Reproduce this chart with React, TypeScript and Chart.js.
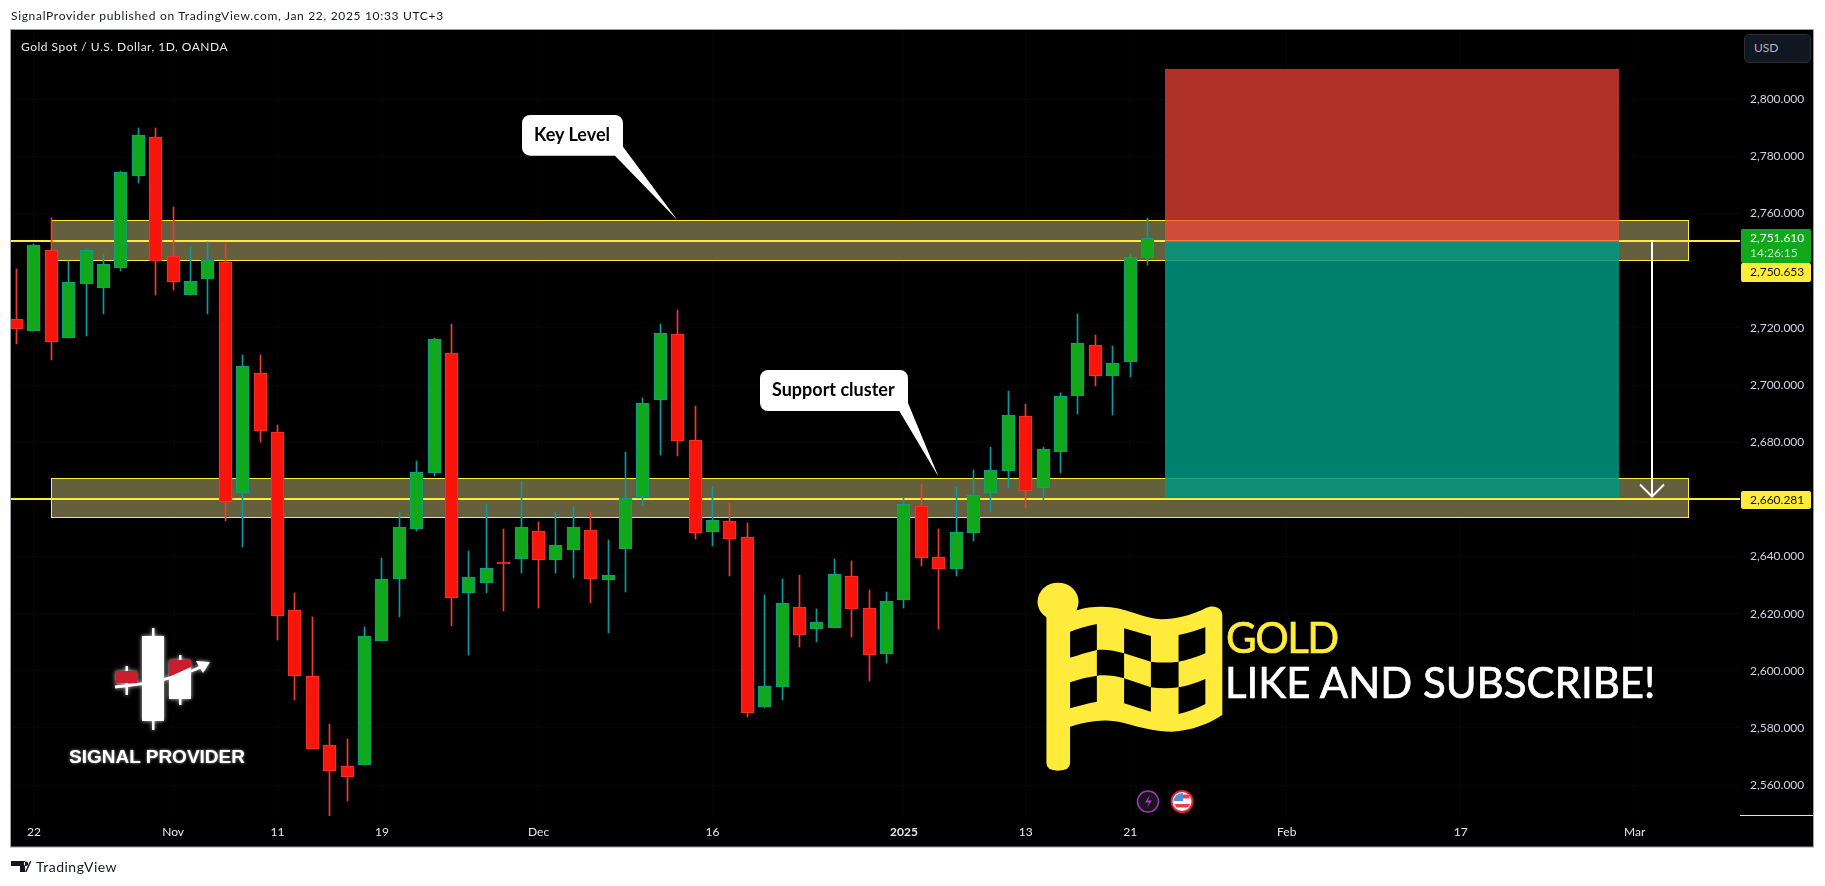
import React, { useEffect, useRef } from "react";
import { Chart, registerables } from "chart.js";

Chart.register(...registerables);

const opens = [2723.0,2719.0,2747.2,2716.3,2735.5,2733.8,2741.1,2773.3,2786.7,2745.1,2731.6,2737.2,2743.0,2662.1,2704.1,2683.5,2621.2,2598.1,2574.0,2566.6,2567.2,2610.6,2632.3,2649.8,2669.4,2711.1,2627.4,2630.9,2638.0,2639.3,2648.8,2638.9,2642.4,2649.2,2631.9,2642.8,2661.0,2694.9,2717.8,2680.7,2648.7,2652.4,2646.8,2587.5,2594.2,2622.2,2614.8,2615.1,2633.1,2621.9,2606.0,2624.9,2657.6,2639.8,2635.8,2648.4,2662.2,2670.1,2689.1,2664.1,2676.7,2696.0,2713.9,2703.0,2707.9,2744.4];
const highs = [2740.6,2749.2,2758.4,2743.4,2747.5,2745.9,2774.9,2789.9,2790.0,2762.2,2748.2,2750.0,2749.7,2710.4,2710.4,2685.9,2627.2,2618.8,2581.3,2576.1,2615.3,2639.4,2655.5,2673.3,2716.5,2721.4,2641.8,2658.3,2649.7,2666.3,2652.0,2655.5,2657.2,2655.5,2645.7,2676.5,2695.4,2721.4,2726.3,2692.7,2664.3,2658.7,2651.7,2626.6,2632.0,2633.5,2621.6,2639.0,2638.4,2628.2,2627.5,2660.4,2665.3,2649.6,2664.3,2670.2,2678.3,2697.8,2693.3,2678.3,2697.1,2724.9,2717.4,2713.7,2746.0,2758.4];
const lows = [2714.2,2718.8,2708.8,2716.3,2717.3,2724.9,2740.0,2770.7,2731.5,2733.3,2731.6,2724.9,2652.5,2643.5,2680.0,2610.8,2589.8,2572.8,2549.2,2554.5,2567.0,2610.6,2618.9,2649.1,2668.2,2615.7,2605.6,2627.3,2621.0,2634.3,2622.0,2634.3,2632.5,2623.8,2613.4,2627.6,2658.0,2675.6,2675.2,2646.2,2643.7,2633.2,2583.9,2586.9,2589.8,2608.4,2610.1,2615.1,2611.9,2596.5,2602.8,2622.0,2636.7,2614.7,2633.3,2645.6,2655.6,2664.0,2657.1,2659.9,2669.3,2689.9,2699.5,2689.6,2702.9,2742.0];
const closes = [2719.5,2748.9,2715.2,2736.0,2747.2,2742.3,2774.4,2787.4,2743.5,2736.2,2736.3,2743.7,2659.0,2706.6,2684.1,2619.3,2598.3,2572.8,2564.8,2563.0,2612.1,2632.0,2650.2,2669.5,2716.0,2625.6,2632.7,2635.9,2637.4,2650.2,2638.9,2643.9,2650.2,2632.0,2633.5,2660.4,2693.6,2718.1,2680.6,2648.4,2652.7,2646.3,2585.4,2594.6,2623.6,2612.7,2617.0,2633.8,2621.8,2605.7,2624.4,2658.3,2639.6,2635.8,2648.5,2661.5,2670.2,2689.4,2663.1,2677.5,2696.1,2714.6,2703.0,2707.6,2744.7,2751.61];

const candleIndex = opens.map((_, i) => i);
const priceTicks = [2800, 2780, 2760, 2720, 2700, 2680, 2640, 2620, 2600, 2580, 2560];
const timeTickIndex = [1, 9, 15, 21, 30, 40, 51, 58, 64, 73, 83, 93];
const timeTickLabels = ["22", "Nov", "11", "19", "Dec", "16", "2025", "13", "21", "Feb", "17", "Mar"];
const priceLines = [2750.653, 2660.281];
const zones = [
  { x0: 2, x1: 96.04, top: 2757.6, bottom: 2743.6 },
  { x0: 2, x1: 96.04, top: 2667.4, bottom: 2653.7 },
];
const positionX = [66, 92.1];
const stopPrice = 2810.5;
const entryPrice = 2750.653;
const targetPrice = 2661.0;
const arrowIndex = 94;

const GREEN = "#12a81c";
const TEAL = "#0a9c9c";
const RED = "#f8150c";
const RED_EDGE = "#f43a2e";
const YELLOW = "#ffeb3b";
const FONT = "Lato, 'Noto Sans', sans-serif";

const isUp = (i: number) => closes[i] >= opens[i];

const label = (ctx: any, x: number, y: number, w: number, h: number, fill: string) => {
  ctx.fillStyle = fill;
  ctx.beginPath();
  ctx.roundRect(x, y, w, h, 2);
  ctx.fill();
};

const tvPlugin = {
  id: "tvLayers",
  beforeDraw(chart: any) {
    const { ctx } = chart;
    ctx.save();
    ctx.fillStyle = "#000";
    ctx.fillRect(11, 30, 1802, 817);
    ctx.restore();
  },
  beforeDatasetsDraw(chart: any) {
    const { ctx, chartArea, scales } = chart;
    chart.data.datasets.forEach((ds: any, i: number) => {
      const els = chart.getDatasetMeta(i).data;
      if (ds.type === "line") {
        els.forEach((el: any) => { el.y = Math.ceil(el.y); });
        return;
      }
      els.forEach((el: any) => {
        el.x = Math.round(el.x - 0.5) + 0.5;
        el.y = Math.round(el.y);
        el.base = Math.round(el.base);
      });
    });
    ctx.save();
    ctx.beginPath();
    ctx.rect(chartArea.left, chartArea.top, chartArea.width, chartArea.height);
    ctx.clip();
    zones.forEach((z) => {
      const l = Math.round(scales.x.getPixelForValue(z.x0)) + 0.5;
      const r = Math.round(scales.x.getPixelForValue(z.x1)) + 0.5;
      const t = Math.round(scales.y.getPixelForValue(z.top)) + 0.5;
      const b = Math.round(scales.y.getPixelForValue(z.bottom)) + 0.5;
      ctx.fillStyle = "#645f3c";
      ctx.fillRect(l, t, r - l, b - t);
      ctx.strokeStyle = YELLOW;
      ctx.lineWidth = 1;
      ctx.strokeRect(l, t, r - l, b - t);
    });
    ctx.restore();
  },
  beforeDatasetDraw(chart: any, args: any) {
    if (chart.data.datasets[args.index].label !== "wicks") return;
    const { ctx, scales } = chart;
    const l = Math.round(scales.x.getPixelForValue(positionX[0]));
    const r = Math.round(scales.x.getPixelForValue(positionX[1]));
    const t = Math.round(scales.y.getPixelForValue(stopPrice));
    const m = Math.ceil(scales.y.getPixelForValue(entryPrice));
    const b = Math.round(scales.y.getPixelForValue(targetPrice));
    ctx.save();
    ctx.fillStyle = "rgba(249,70,56,0.7)";
    ctx.fillRect(l, t, r - l, m - t);
    ctx.fillStyle = "rgba(0,152,131,0.84)";
    ctx.fillRect(l, m, r - l, b - m);
    ctx.restore();
  },
  afterDatasetsDraw(chart: any) {
    const { ctx, scales } = chart;
    const x = Math.round(scales.x.getPixelForValue(arrowIndex));
    const t = scales.y.getPixelForValue(entryPrice);
    const b = scales.y.getPixelForValue(targetPrice);
    ctx.save();
    ctx.strokeStyle = "#ffffff";
    ctx.lineWidth = 2;
    ctx.beginPath();
    ctx.moveTo(x, t);
    ctx.lineTo(x, b);
    ctx.moveTo(x - 12, b - 12);
    ctx.lineTo(x, b);
    ctx.lineTo(x + 12, b - 12);
    ctx.stroke();
    ctx.restore();
  },
  afterDraw(chart: any) {
    const { ctx, chartArea } = chart;
    ctx.save();
    ctx.strokeStyle = "#e4e4e4";
    ctx.lineWidth = 1;
    ctx.beginPath();
    ctx.moveTo(chartArea.right, chartArea.bottom - 0.5);
    ctx.lineTo(1813, chartArea.bottom - 0.5);
    ctx.stroke();
    label(ctx, 1741, 229, 70, 34, GREEN);
    label(ctx, 1741, 263, 70, 19, YELLOW);
    label(ctx, 1741, 491, 70, 18, YELLOW);
    ctx.restore();
    ctx.save();
    ctx.font = `12px ${FONT}`;
    ctx.textBaseline = "middle";
    ctx.fillStyle = "#ffffff";
    ctx.fillText("2,751.610", 1750, 238);
    ctx.fillStyle = "#bfe8c0";
    ctx.fillText("14:26:15", 1750, 253);
    ctx.fillStyle = "#111111";
    ctx.fillText("2,750.653", 1750, 272.5);
    ctx.fillText("2,660.281", 1750, 500);
    ctx.restore();
  },
};

function Overlay() {
  const text = (left: number, top: number, size: number, content: string, extra: any = {}) => (
    <div style={{ position: "absolute", left, top, fontSize: size, lineHeight: 1, whiteSpace: "nowrap", fontFamily: FONT, ...extra }}>{content}</div>
  );
  return (
    <>
      {text(11, 10, 12, "SignalProvider published on TradingView.com, Jan 22, 2025 10:33 UTC+3", { color: "#131722", letterSpacing: "0.68px" })}
      {text(21, 41, 12, "Gold Spot / U.S. Dollar, 1D, OANDA", { color: "#e8e8e8", letterSpacing: "0.5px" })}
      <div style={{ position: "absolute", left: 1744, top: 34, width: 65, height: 27, background: "#131722", border: "1px solid #2a2e39", borderRadius: 5 }} />
      {text(1754, 42, 12, "USD", { color: "#b2b5be" })}
      <svg width={1825} height={886} style={{ position: "absolute", left: 0, top: 0, pointerEvents: "none" }}>
        <rect x={10.5} y={29.5} width={1803} height={817.5} fill="none" stroke="#9a9ea8" strokeWidth={1} />
        <path d="M530 115H615a8 8 0 0 1 8 8V146.7L677.3 220L615 155.7H530a8 8 0 0 1 -8 -8V123a8 8 0 0 1 8 -8Z" fill="#fff" />
        <path d="M768 370H900a8 8 0 0 1 8 8V403L938.5 476.7L899.3 411H768a8 8 0 0 1 -8 -8V378a8 8 0 0 1 8 -8Z" fill="#fff" />
        <g transform="translate(1000 560) scale(0.4464 0.3333)">
          <ellipse cx={130} cy={125} rx={46} ry={57} fill={YELLOW} />
          <path d="M104 160L104 610Q104 632 130 632Q157 632 157 610L157 500C200 482 240 475 280 490C320 505 350 515 385 515C430 512 470 490 498 465L498 165C498 145 480 132 460 145C430 165 395 178 360 178C320 175 280 140 230 140C205 140 190 143 175 150Z" fill={YELLOW} />
          <g fill="#000">
            <path d="M157 215C177 205 197 198 217 192V270C197 276 177 285 157 293Z" />
            <path d="M278 205L338 228V305C318 297 298 288 278 280Z" />
            <path d="M400 225C420 220 440 212 460 202V280C440 292 420 300 400 305Z" />
            <path d="M217 270C237 267 258 272 278 280V355C258 347 237 344 217 347Z" />
            <path d="M338 305C358 309 380 308 400 305V382C380 386 358 386 338 382Z" />
            <path d="M157 367C177 357 197 351 217 347V425C197 430 177 437 157 445Z" />
            <path d="M278 355L338 382V455L278 430Z" />
            <path d="M400 382C420 378 440 368 460 357V432C440 446 420 456 400 462Z" />
          </g>
        </g>
        <g style={{ filter: "drop-shadow(0 0 2px rgba(255,255,255,0.8))" }}>
          <rect x={142} y={636} width={22} height={85} fill="#fff" />
          <rect x={152} y={628} width={2.5} height={102} fill="#fff" />
          <rect x={169} y={660} width={22} height={39} fill="#fff" />
          <rect x={179} y={655} width={2.5} height={50} fill="#fff" />
          <path d="M169 660H191V667L169 677Z" fill="#c81e2e" />
          <rect x={125.5} y={666} width={2.5} height={29} fill="#fff" />
          <rect x={115.5} y={671} width={21.5} height={12} fill="#c81e2e" />
          <path d="M115 687C150 684 182 676 203 666" fill="none" stroke="#fff" strokeWidth={3} />
          <path d="M196 661L210 662L203 673Z" fill="#fff" />
        </g>
        <g>
          <circle cx={1148} cy={801.5} r={10.5} fill="#1b1322" stroke="#9c3bb0" strokeWidth={1.5} />
          <path d="M1150 795L1145 802.5H1149L1146.5 808L1152 800.5H1148Z" fill="#a040c0" />
          <circle cx={1182} cy={801.5} r={10.5} fill="#fff" stroke="#e02030" strokeWidth={2} />
          <path d="M1173.5 801H1183V793A9 9 0 0 0 1173.5 801Z" fill="#4f8fe0" />
          <path d="M1183 794.5H1189.5V798.5H1183ZM1174.5 804H1190L1188 807.5H1176.5Z" fill="#e84050" />
        </g>
        <path d="M11 861H25V872H20V866H11ZM26 866A2.2 2.2 0 1 0 26 861.6A2.2 2.2 0 0 0 26 866ZM30 861L25 872H26.5L31.5 861Z" fill="#131722" />
      </svg>
      {text(36, 860, 14, "TradingView", { color: "#131722", letterSpacing: "0.5px" })}
      {text(534, 125, 18, "Key Level", { color: "#000", fontWeight: 700 })}
      {text(772, 380, 18, "Support cluster", { color: "#000", fontWeight: 700 })}
      {text(1226, 616, 42, "GOLD", { color: YELLOW, letterSpacing: "-1.5px", WebkitTextStroke: `0.7px ${YELLOW}` })}
      {text(1225, 661, 42, "LIKE AND SUBSCRIBE!", { color: "#fff", WebkitTextStroke: "0.7px #fff" })}
      {text(69, 747, 19, "SIGNAL PROVIDER", { color: "#fff", fontWeight: 700, fontFamily: "'Liberation Sans', Arial, sans-serif", textShadow: "0 0 3px rgba(255,255,255,0.7)" })}
    </>
  );
}

export default function App() {
  const ref = useRef<HTMLCanvasElement | null>(null);
  useEffect(() => {
    document.body.style.background = "#fff";
    const chart = new Chart(ref.current as HTMLCanvasElement, {
      type: "bar",
      data: {
        datasets: [
          ...priceLines.map((price, k) => ({
            type: "line" as const,
            label: `line${k}`,
            data: [{ x: -5, y: price }, { x: 105, y: price }],
            borderColor: YELLOW,
            borderWidth: 2,
            pointRadius: 0,
            order: 3,
          })),
          {
            type: "bar" as const,
            label: "wicks",
            data: candleIndex.map((i) => ({ x: i, y: [lows[i], highs[i]] })),
            backgroundColor: candleIndex.map((i) => (isUp(i) ? TEAL : RED_EDGE)),
            barThickness: 1,
            grouped: false,
            order: 2,
          },
          {
            type: "bar" as const,
            label: "bodies",
            data: candleIndex.map((i) => ({ x: i, y: [opens[i], closes[i]] })),
            backgroundColor: candleIndex.map((i) => (isUp(i) ? GREEN : RED)),
            borderColor: candleIndex.map((i) => (isUp(i) ? TEAL : RED_EDGE)),
            borderWidth: 1,
            borderSkipped: false,
            barThickness: 13,
            grouped: false,
            minBarLength: 2,
            order: 1,
          },
        ],
      } as any,
      options: {
        animation: false,
        responsive: false,
        layout: { padding: { left: 11, top: 30, right: 12, bottom: 39 } },
        plugins: { legend: { display: false }, tooltip: { enabled: false }, title: { display: false } },
        scales: {
          x: {
            type: "linear",
            offset: false,
            min: -0.32,
            max: 99.05,
            grid: { color: "#060606", drawTicks: false, offset: false },
            border: { display: false },
            afterFit: (s: any) => { s.height = 31; },
            afterBuildTicks: (s: any) => { s.ticks = timeTickIndex.map((value) => ({ value })); },
            ticks: {
              autoSkip: false,
              maxRotation: 0,
              padding: 9,
              color: "#e8e8e8",
              font: (c: any) => ({ family: FONT, size: 12, weight: c.tick && c.tick.label === "2025" ? 700 : 400 }),
              callback: (v: any) => timeTickLabels[timeTickIndex.indexOf(Number(v))],
            },
          },
          y: {
            type: "linear",
            position: "right",
            min: 2549.2,
            max: 2824.25,
            grid: { color: "#060606", drawTicks: false },
            border: { display: false },
            afterFit: (s: any) => { s.width = 73; },
            afterBuildTicks: (s: any) => { s.ticks = priceTicks.map((value) => ({ value })); },
            ticks: {
              autoSkip: false,
              padding: 10,
              color: "#d1d4dc",
              font: { family: FONT, size: 12 },
              callback: (v: any) => Number(v).toLocaleString("en-US", { minimumFractionDigits: 3, maximumFractionDigits: 3 }),
            },
          },
        },
      } as any,
      plugins: [tvPlugin as any],
    });
    return () => chart.destroy();
  }, []);
  return (
    <>
      <canvas ref={ref} width={1825} height={886} style={{ position: "absolute", left: 0, top: 0 }} />
      <Overlay />
    </>
  );
}
